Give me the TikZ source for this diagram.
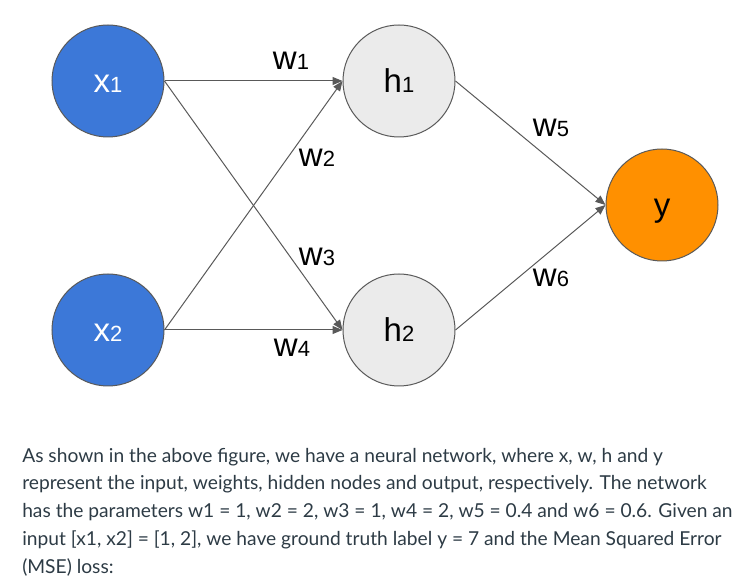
\documentclass[tikz,border=0pt]{standalone}
\usepackage{fontspec}
\usepackage{tikz}
\usepackage{xcolor}
\usetikzlibrary{arrows.meta,calc}
\newfontfamily\arialfont{Liberation Sans}
\newfontfamily\latofont{Lato}
\definecolor{nodeblue}{HTML}{3C78D8}
\definecolor{nodegray}{HTML}{EBEBEB}
\definecolor{nodeorange}{HTML}{FF9000}
\definecolor{linegray}{HTML}{595959}
\definecolor{textgray}{HTML}{2D3B45}
\newcommand{\nlab}[2]{{\fontsize{24.75}{26}\selectfont #1}{\fontsize{16.5}{18}\selectfont #2}}

\begin{document}
\begin{tikzpicture}[x=0.75pt,y=-0.75pt,
		neuron/.style={circle,draw=linegray,line width=0.75pt,minimum size=84pt,inner sep=0pt,text height=18pt,text depth=0pt,font=\arialfont},
		conn/.style={draw=linegray,line width=0.75pt,-{Triangle[length=7.5pt,width=6pt]}},
		wlabel/.style={anchor=base,font=\arialfont,inner sep=0pt}] %Netz
		\useasboundingbox (0,0) rectangle (750,584);
		\node[neuron,fill=nodeblue,text=white] (x1) at (108,81) {\nlab{x}{1}};
		\node[neuron,fill=nodeblue,text=white] (x2) at (108,330) {\nlab{x}{2}};
		\node[neuron,fill=nodegray] (h1) at (399,81) {\nlab{h}{1}};
		\node[neuron,fill=nodegray] (h2) at (399,330) {\nlab{h}{2}};
		\node[neuron,fill=nodeorange] (y) at (662,205) {\nlab{y}{}};
		\draw[conn] (x1.east) -- (h1.west);
		\draw[conn] (x1.east) -- (h2.west);
		\draw[conn] (x2.east) -- (h1.west);
		\draw[conn] (x2.east) -- (h2.west);
		\draw[conn] (h1.east) -- (y.west);
		\draw[conn] (h2.east) -- (y.west);
		\node[wlabel] (w1) at (291,70) {\nlab{w}{1}};
		\node[wlabel] (w2) at (317,167) {\nlab{w}{2}};
		\node[wlabel] (w3) at (317,266) {\nlab{w}{3}};
		\node[wlabel] (w4) at (292,357) {\nlab{w}{4}};
		\node[wlabel] (w5) at (551,137) {\nlab{w}{5}};
		\node[wlabel] (w6) at (551,287) {\nlab{w}{6}};
		\node[anchor=base west,align=left,inner sep=0pt,text=textgray,font=\latofont\fontsize{14.4}{20.8}\selectfont] (desc) at (22,573)
			{As shown in the above figure, we have a neural network, where x, w, h and y\\
			represent the input, weights, hidden nodes and output, respectively. The network\\
			has the parameters w1 = 1, w2 = 2, w3 = 1, w4 = 2, w5 = 0.4 and w6 = 0.6. Given an\\
			input [x1, x2] = [1, 2], we have ground truth label y = 7 and the Mean Squared Error\\
			(MSE) loss:};
		\end{tikzpicture}
\end{document}
